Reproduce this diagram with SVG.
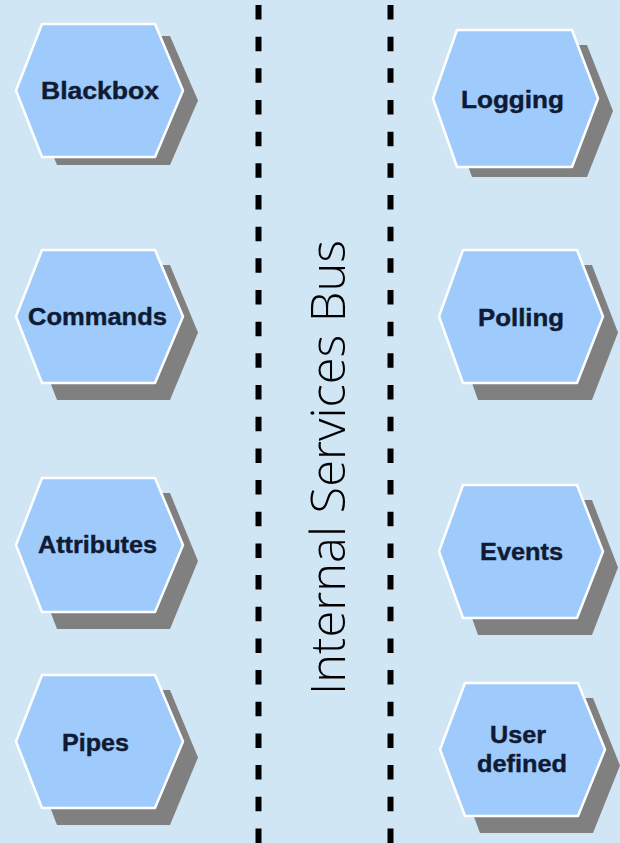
<svg xmlns="http://www.w3.org/2000/svg" width="620" height="843" viewBox="0 0 620 843">
<style>
.bg{fill:#d0e6f4}
.sh{fill:#808080}
.hx{fill:#9ecbfb;stroke:#ffffff;stroke-width:2.5;stroke-linejoin:round}
.lb{font-family:"Liberation Sans",Arial,sans-serif;font-weight:bold;font-size:23px;fill:#0f1a33;stroke:#0f1a33;stroke-width:0.4;text-anchor:middle}
.bus{stroke:#000000;stroke-width:6;stroke-dasharray:14.5 17.17;fill:none}
.title{font-family:"Open Sans",sans-serif;font-weight:300;font-size:48px;fill:#000000;text-anchor:middle}
</style>
<rect class="bg" x="0" y="0" width="620" height="843"/>
<g id="connectors">
<line class="bus" x1="258.5" y1="5" x2="258.5" y2="843"/>
<line class="bus" x1="390.5" y1="5" x2="390.5" y2="843"/>
</g>
<text class="title" transform="translate(345,467.5) rotate(-90)" textLength="455" lengthAdjust="spacingAndGlyphs">Internal Services Bus</text>
<g id="blackbox">
<polygon class="sh" points="31,100.5 57,36 170,36 198,100.5 170,165 57,165"/>
<polygon class="hx" points="16,90.5 42,24 155,24 183,90.5 155,157 42,157"/>
<text class="lb" x="100" y="99" textLength="118" lengthAdjust="spacingAndGlyphs">Blackbox</text>
</g>
<g id="commands">
<polygon class="sh" points="31,332.5 57,265 170,265 198,332.5 170,400 57,400"/>
<polygon class="hx" points="16,316.5 42,250 155,250 183,316.5 155,383 42,383"/>
<text class="lb" x="97.5" y="325" textLength="139" lengthAdjust="spacingAndGlyphs">Commands</text>
</g>
<g id="attributes">
<polygon class="sh" points="31,561 57,493 170,493 198,561 170,629 57,629"/>
<polygon class="hx" points="16,545 42,478 155,478 183,545 155,612 42,612"/>
<text class="lb" x="97.5" y="553" textLength="119" lengthAdjust="spacingAndGlyphs">Attributes</text>
</g>
<g id="pipes">
<polygon class="sh" points="31,757.5 57,690 170,690 198,757.5 170,825 57,825"/>
<polygon class="hx" points="16,741.5 42,675 155,675 183,741.5 155,808 42,808"/>
<text class="lb" x="95.5" y="751" textLength="67" lengthAdjust="spacingAndGlyphs">Pipes</text>
</g>
<g id="logging">
<polygon class="sh" points="448,111 472,45 587,45 613,111 587,177 472,177"/>
<polygon class="hx" points="433,98.5 457,30 572,30 598,98.5 572,167 457,167"/>
<text class="lb" x="512.5" y="108" textLength="103" lengthAdjust="spacingAndGlyphs">Logging</text>
</g>
<g id="polling">
<polygon class="sh" points="454,332.5 478,265 592,265 618,332.5 592,400 478,400"/>
<polygon class="hx" points="439,316.5 463,250 577,250 603,316.5 577,383 463,383"/>
<text class="lb" x="521" y="325.5" textLength="86" lengthAdjust="spacingAndGlyphs">Polling</text>
</g>
<g id="events">
<polygon class="sh" points="454,567.5 478,500 592,500 618,567.5 592,635 478,635"/>
<polygon class="hx" points="439,551.5 463,485 577,485 603,551.5 577,618 463,618"/>
<text class="lb" x="521.5" y="560" textLength="83" lengthAdjust="spacingAndGlyphs">Events</text>
</g>
<g id="user-defined">
<polygon class="sh" points="455,765.5 480,698 593,698 620,765.5 593,833 480,833"/>
<polygon class="hx" points="440,749.5 465,683 578,683 605,749.5 578,816 465,816"/>
<text class="lb" x="518" y="743" textLength="56" lengthAdjust="spacingAndGlyphs">User</text>
<text class="lb" x="522" y="772" textLength="90" lengthAdjust="spacingAndGlyphs">defined</text>
</g>
</svg>
